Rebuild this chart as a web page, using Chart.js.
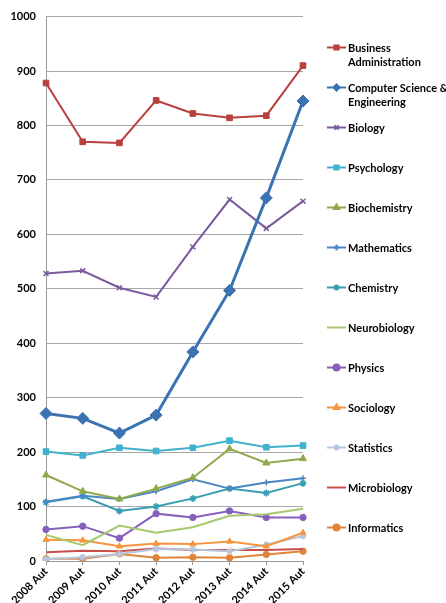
<!DOCTYPE html>
<html>
<head>
<meta charset="utf-8">
<script src="https://cdn.jsdelivr.net/npm/chart.js@4/dist/chart.umd.min.js"></script>
<style>
	html, body { margin: 0; padding: 0; background: #fff; }
	#wrap { position: relative; width: 446px; height: 603px; }
</style>
</head>
<body>
<div id="wrap"><canvas id="chart"></canvas></div>
<script>

// Categories (academic terms)
const terms = ["2008 Aut", "2009 Aut", "2010 Aut", "2011 Aut", "2012 Aut", "2013 Aut", "2014 Aut", "2015 Aut"];

// Series values
const businessAdmin   = [878, 770, 768, 846, 822, 814, 818, 910];
const compSciEng      = [271, 262, 235, 268, 384, 497, 667, 845];
const biology         = [528, 533, 502, 485, 577, 664, 611, 661];
const psychology      = [201, 194, 208, 202, 208, 221, 209, 212];
const biochemistry    = [158, 128, 114, 133, 153, 206, 180, 188];
const mathematics     = [109, 120, 114, 128, 150, 133, 144, 152];
const chemistry       = [108, 119, 92, 100, 115, 133, 125, 143];
const neurobiology    = [48, 29, 65, 52, 62, 83, 86, 96];
const physics         = [58, 64, 42, 87, 80, 92, 80, 80];
const sociology       = [39, 38, 27, 32, 31, 36, 27, 52];
const statistics      = [3, 7, 13, 22, 21, 18, 30, 46];
const microbiology    = [16, 19, 18, 23, 20, 20, 20, 22];
const informatics     = [4, 4, 13, 6, 7, 6, 12, 18];

// Legend labels (multi line where the picture wraps)
const seriesNames = [
	["Business", "Administration"],
	["Computer Science &", "Engineering"],
	["Biology"], ["Psychology"], ["Biochemistry"], ["Mathematics"], ["Chemistry"],
	["Neurobiology"], ["Physics"], ["Sociology"], ["Statistics"], ["Microbiology"], ["Informatics"]
];

const yTicks = { min: 0, max: 1000, step: 100 };

const FONT = "Lato, 'Liberation Sans', Arial, sans-serif";

function series(idx, data, color, style, radius, width){
	return {
		label: seriesNames[idx].join(" "),
		legendLines: seriesNames[idx],
		data,
		borderColor: color,
		backgroundColor: color,
		pointBackgroundColor: color,
		pointBorderColor: color,
		pointStyle: style,
		pointRadius: radius,
		pointBorderWidth: (style === "crossRot" || style === "cross" || style === "star") ? 1.5 : 1,
		borderWidth: width,
		tension: 0,
		fill: false
	}
}

const datasets = [
	series(0, businessAdmin, "#B8413E", "rect", 4, 2),
	series(1, compSciEng, "#3B72B1", "rectRot", 6, 3),
	series(2, biology, "#7A5C9E", "crossRot", 3.5, 2),
	series(3, psychology, "#40B1CE", "rect", 4, 2),
	series(4, biochemistry, "#8FAA4C", "triangle", 4, 2),
	series(5, mathematics, "#4A86C5", "cross", 3, 2),
	series(6, chemistry, "#3A9DB2", "star", 3.5, 2),
	series(7, neurobiology, "#A7C86C", "circle", 0, 2),
	series(8, physics, "#8760BE", "circle", 3.2, 2),
	series(9, sociology, "#F7953F", "triangle", 3.5, 2),
	series(10, statistics, "#B6C6DF", "star", 3.5, 2),
	series(11, microbiology, "#C8504B", "circle", 0, 2),
	series(12, informatics, "#DF853B", "circle", 3.2, 2)
];

// Draws the legend on the right the way the picture has it: one slot per series,
// first line of the text aligned with the symbol
const sideLegend = {
	id: "sideLegend",
	afterDraw(chart){
		const ctx = chart.ctx;
		const startY = 48.5, stepY = 40, lineX0 = 327, lineX1 = 346, textX = 348;
		ctx.save();
		ctx.font = "bold 11px " + FONT;
		ctx.textBaseline = "middle";
		ctx.textAlign = "left";
		chart.data.datasets.forEach((ds, i) => {
			const y = startY + i * stepY;
			ctx.strokeStyle = ds.borderColor;
			ctx.lineWidth = 2;
			ctx.beginPath();
			ctx.moveTo(lineX0, y - 1);
			ctx.lineTo(lineX1, y - 1);
			ctx.stroke();
			if(ds.pointRadius > 0 && Chart.helpers && Chart.helpers.drawPoint){
				ctx.fillStyle = ds.pointBackgroundColor;
				ctx.strokeStyle = ds.pointBorderColor;
				Chart.helpers.drawPoint(ctx, {
					pointStyle: ds.pointStyle,
					radius: Math.min(ds.pointRadius, 3),
					rotation: 0,
					borderWidth: 1
				}, (lineX0 + lineX1) / 2, y - 1);
			}
			ctx.fillStyle = "#000";
			ds.legendLines.forEach((t, k) => ctx.fillText(t, textX, y + k * 13.5));
		});
		ctx.restore();
	}
};

new Chart(document.getElementById("chart"), {
	type: "line",
	data: { labels: terms, datasets },
	plugins: [sideLegend],
	options: {
		responsive: true,
		maintainAspectRatio: false,
		animation: false,
		layout: { padding: { top: 15, right: 143, bottom: 0, left: 0 } },
		plugins: {
			legend: { display: false },
			tooltip: { enabled: false }
		},
		scales: {
			x: {
				offset: false,
				afterFit(scale){ scale.height = 42; },
				grid: { drawOnChartArea: false, color: "#999", tickLength: 4 },
				border: { color: "#999" },
				ticks: {
					minRotation: 45, maxRotation: 45,
					color: "#000",
					padding: 0,
					font: { family: FONT, size: 11, weight: "bold" }
				}
			},
			y: {
				min: yTicks.min, max: yTicks.max,
				afterFit(scale){ scale.width = 46; },
				grid: { color: "#A8A8A8", lineWidth: 1, tickLength: 0 },
				border: { color: "#999" },
				ticks: {
					stepSize: yTicks.step,
					color: "#000",
					padding: 10,
					callback: v => String(v),
					font: { family: FONT, size: 11, weight: "bold" }
				}
			}
		}
	}
});
</script>
</body>
</html>
